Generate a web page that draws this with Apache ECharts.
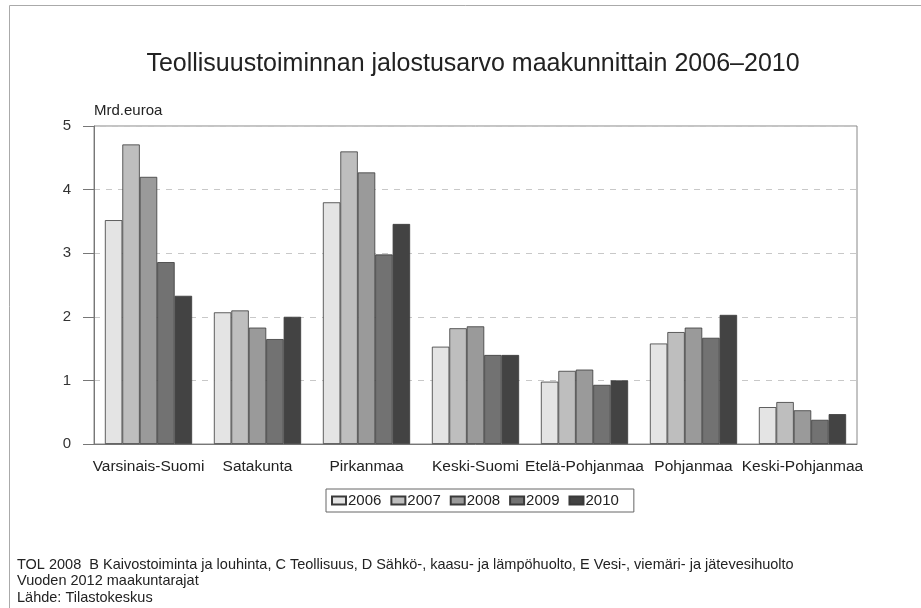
<!DOCTYPE html>
<html>
<head>
<meta charset="utf-8">
<script src="https://cdn.jsdelivr.net/npm/echarts@6/dist/echarts.min.js"></script>
<style>html,body{margin:0;padding:0;background:#fff}#c{width:921px;height:608px}</style>
</head>
<body>
<div id="c"></div>
<script>
const categories = ["Varsinais-Suomi","Satakunta","Pirkanmaa","Keski-Suomi","Etelä-Pohjanmaa","Pohjanmaa","Keski-Pohjanmaa"];
const years = ["2006","2007","2008","2009","2010"];
const v2006 = [3.52, 2.07, 3.80, 1.53, 0.98, 1.58, 0.58];
const v2007 = [4.71, 2.10, 4.60, 1.82, 1.15, 1.76, 0.66];
const v2008 = [4.20, 1.83, 4.27, 1.85, 1.17, 1.83, 0.53];
const v2009 = [2.86, 1.65, 2.98, 1.40, 0.93, 1.67, 0.38];
const v2010 = [2.33, 2.00, 3.46, 1.40, 1.00, 2.03, 0.47];
const yTicks = [0, 1, 2, 3, 4, 5];
const titleText = "Teollisuustoiminnan jalostusarvo maakunnittain 2006–2010";
const unitText = "Mrd.euroa";
const footer = [
  "TOL 2008  B Kaivostoiminta ja louhinta, C Teollisuus, D Sähkö-, kaasu- ja lämpöhuolto, E Vesi-, viemäri- ja jätevesihuolto",
  "Vuoden 2012 maakuntarajat",
  "Lähde: Tilastokeskus"
];
const colors = ["#e4e4e4", "#bebebe", "#9a9a9a", "#727272", "#434343"];
const values = [v2006, v2007, v2008, v2009, v2010];

const FONT = "'Liberation Sans', Arial, sans-serif";
const chart = echarts.init(document.getElementById('c'), null, {renderer: 'canvas'});
chart.setOption({
  backgroundColor: '#fff',
  animation: false,
  textStyle: {fontFamily: FONT},
  title: {
    text: titleText, left: 468, top: 47, textAlign: 'center',
    textStyle: {fontFamily: FONT, fontSize: 25, fontWeight: 'normal', color: '#222'}
  },
  legend: {
    data: years, left: 326, top: 489,
    padding: [4, 15, 4, 5],
    borderColor: '#666', borderWidth: 1,
    itemWidth: 14, itemHeight: 8, itemGap: 9,
    icon: 'rect',
    textStyle: {fontFamily: FONT, fontSize: 15, color: '#222', padding: [0, 0, 0, -3]}
  },
  grid: {left: 94, right: 64, top: 126, bottom: 164, show: true, borderColor: '#888', borderWidth: 1},
  xAxis: {
    type: 'category', data: categories,
    axisLine: {lineStyle: {color: '#777'}},
    axisTick: {show: false},
    axisLabel: {fontFamily: FONT, fontSize: 15.5, color: '#222', margin: 15, interval: 0}
  },
  yAxis: {
    type: 'value', min: yTicks[0], max: yTicks[yTicks.length - 1], interval: 1,
    axisLine: {show: true, lineStyle: {color: '#777'}},
    axisTick: {show: true, length: 11, lineStyle: {color: '#777'}},
    axisLabel: {fontFamily: FONT, fontSize: 15, color: '#333', margin: 23},
    splitLine: {show: true, lineStyle: {color: '#c8c8c8', type: [6, 6]}}
  },
  series: years.map((y, i) => ({
    name: y, type: 'bar', data: values[i],
    barGap: '0%', barCategoryGap: '20%',
    itemStyle: {color: colors[i], borderColor: '#3a3a3a', borderWidth: 0.8}
  })),
  graphic: [
    {type: 'line', shape: {x1: 9.5, y1: 5.5, x2: 921, y2: 5.5}, style: {stroke: '#aaa', lineWidth: 1}},
    {type: 'line', shape: {x1: 9.5, y1: 5.5, x2: 9.5, y2: 608}, style: {stroke: '#aaa', lineWidth: 1}},
    {type: 'text', style: {x: 94, y: 111, verticalAlign: 'middle', text: unitText, font: '15px ' + FONT, fill: '#222'}},
    {type: 'text', style: {x: 17, y: 565, verticalAlign: 'middle', text: footer[0], font: '14.5px ' + FONT, fill: '#222'}},
    {type: 'text', style: {x: 17, y: 581, verticalAlign: 'middle', text: footer[1], font: '14.5px ' + FONT, fill: '#222'}},
    {type: 'text', style: {x: 17, y: 598, verticalAlign: 'middle', text: footer[2], font: '14.5px ' + FONT, fill: '#222'}}
  ]
});
</script>
</body>
</html>
